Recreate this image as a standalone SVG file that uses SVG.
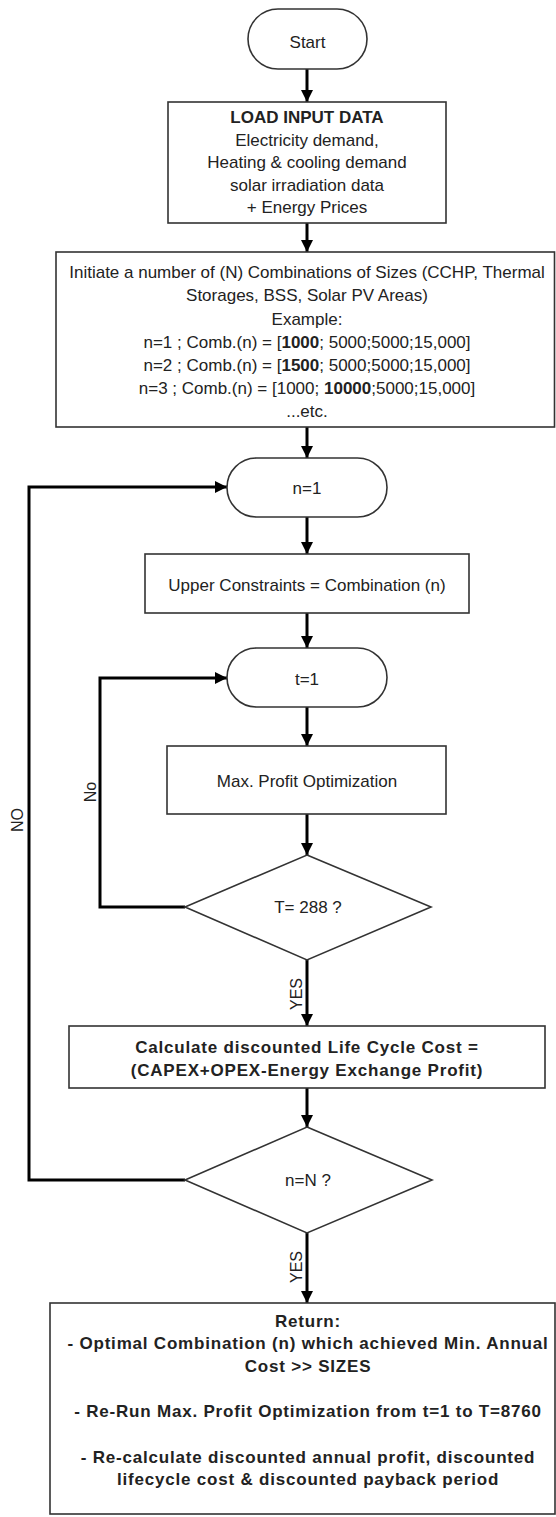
<svg xmlns="http://www.w3.org/2000/svg" width="556" height="1517" viewBox="0 0 556 1517">
<style>
.node{fill:#fff;stroke:#333;stroke-width:1.6}
.t{font-family:"Liberation Sans",Arial,sans-serif;font-size:17px;fill:#222;text-anchor:middle}
.b{font-weight:bold}
.bs{font-weight:bold;letter-spacing:0.8px}
.lbl{font-family:"Liberation Sans",Arial,sans-serif;font-size:16px;fill:#222;text-anchor:middle}
.c{fill:none;stroke:#000;stroke-width:3}
</style>
<defs>
<marker id="ah" markerUnits="userSpaceOnUse" markerWidth="12" markerHeight="12" refX="12" refY="6" orient="auto">
<path d="M0,0 L12,6 L0,12 z" fill="#000"/>
</marker>
</defs>
<rect width="556" height="1517" fill="#fff"/>
<g id="connectors">
<path class="c" d="M307,69 V102" marker-end="url(#ah)"/>
<path class="c" d="M307,223 V252" marker-end="url(#ah)"/>
<path class="c" d="M307,427 V458" marker-end="url(#ah)"/>
<path class="c" d="M307,517 V554" marker-end="url(#ah)"/>
<path class="c" d="M307,613 V648" marker-end="url(#ah)"/>
<path class="c" d="M307,707 V746" marker-end="url(#ah)"/>
<path class="c" d="M307,814 V855" marker-end="url(#ah)"/>
<path class="c" d="M307,960 V1026" marker-end="url(#ah)"/>
<path class="c" d="M185,907 H100 V678 H227" marker-end="url(#ah)"/>
<path class="c" d="M307,1088 V1127" marker-end="url(#ah)"/>
<path class="c" d="M185,1180 H29 V487 H227" marker-end="url(#ah)"/>
<path class="c" d="M307,1233 V1303" marker-end="url(#ah)"/>
<text class="lbl" x="95.5" y="792" transform="rotate(-90 95.5 792)">No</text>
<text class="lbl" x="23" y="820" transform="rotate(-90 23 820)">NO</text>
<text class="lbl" x="301.5" y="994" transform="rotate(-90 301.5 994)">YES</text>
<text class="lbl" x="301.5" y="1267" transform="rotate(-90 301.5 1267)">YES</text>
</g>
<g id="start">
<rect class="node" x="248" y="9" width="119" height="60" rx="30" ry="30"/>
<text class="t" x="307.5" y="48">Start</text>
</g>
<g id="load">
<rect class="node" x="168" y="102" width="278" height="121"/>
<text class="t b" x="307" y="123">LOAD INPUT DATA</text>
<text class="t" x="307" y="145.5">Electricity demand,</text>
<text class="t" x="307" y="168">Heating &amp; cooling demand</text>
<text class="t" x="307" y="190.5">solar irradiation data</text>
<text class="t" x="307" y="213">+ Energy Prices</text>
</g>
<g id="combinations">
<rect class="node" x="56" y="252" width="498.5" height="175"/>
<text class="t" x="307" y="278">Initiate a number of (N) Combinations of Sizes (CCHP, Thermal</text>
<text class="t" x="307" y="301">Storages, BSS, Solar PV Areas)</text>
<text class="t" x="307" y="324.5">Example:</text>
<text class="t" x="307" y="347.5">n=1 ; Comb.(n) = [<tspan class="b">1000</tspan>; 5000;5000;15,000]</text>
<text class="t" x="307" y="370.5">n=2 ; Comb.(n) = [<tspan class="b">1500</tspan>; 5000;5000;15,000]</text>
<text class="t" x="307" y="393.5">n=3 ; Comb.(n) = [1000; <tspan class="b">10000</tspan>;5000;15,000]</text>
<text class="t" x="307" y="416.5">...etc.</text>
</g>
<g id="n1">
<rect class="node" x="227" y="458" width="160" height="59" rx="29.5" ry="29.5"/>
<text class="t" x="307" y="494">n=1</text>
</g>
<g id="upper">
<rect class="node" x="145" y="554" width="324" height="59"/>
<text class="t" x="307" y="591">Upper Constraints = Combination (n)</text>
</g>
<g id="t1">
<rect class="node" x="227" y="648" width="160" height="59" rx="29.5" ry="29.5"/>
<text class="t" x="307" y="685">t=1</text>
</g>
<g id="maxprofit">
<rect class="node" x="167" y="746" width="279" height="68"/>
<text class="t" x="307" y="787">Max. Profit Optimization</text>
</g>
<g id="t288">
<polygon class="node" points="307,855 431,907 307,960 185,907"/>
<text class="t" x="308" y="913">T= 288 ?</text>
</g>
<g id="lcc">
<rect class="node" x="69" y="1026" width="476" height="62"/>
<text class="t bs" x="307" y="1053">Calculate discounted Life Cycle Cost =</text>
<text class="t bs" x="307" y="1076">(CAPEX+OPEX-Energy Exchange Profit)</text>
</g>
<g id="nN">
<polygon class="node" points="307,1127 432,1180 307,1233 185,1180"/>
<text class="t" x="308" y="1186">n=N ?</text>
</g>
<g id="return">
<rect class="node" x="50" y="1303" width="505" height="211"/>
<text class="t bs" x="308" y="1327">Return:</text>
<text class="t bs" x="308" y="1349">- Optimal Combination (n) which achieved Min. Annual</text>
<text class="t bs" x="308" y="1372">Cost &gt;&gt; SIZES</text>
<text class="t bs" x="308" y="1417">- Re-Run Max. Profit Optimization from t=1 to T=8760</text>
<text class="t bs" x="308" y="1463">- Re-calculate discounted annual profit, discounted</text>
<text class="t bs" x="308" y="1485">lifecycle cost &amp; discounted payback period</text>
</g>
</svg>
